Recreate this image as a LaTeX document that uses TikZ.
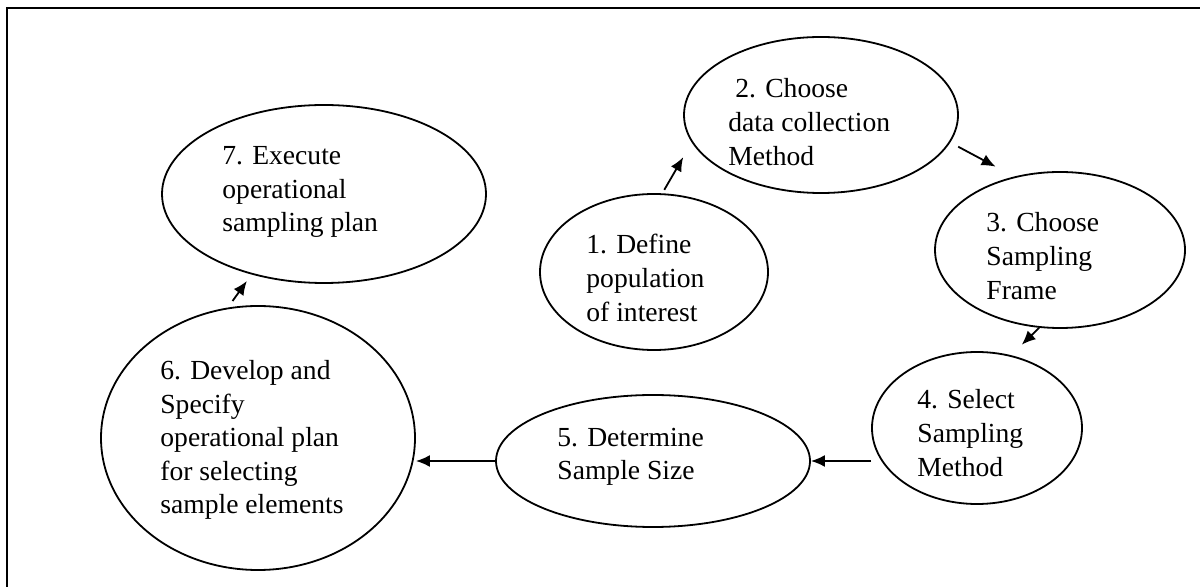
\documentclass[tikz,border=0pt]{standalone}
\usepackage{fontspec}
\setmainfont{Liberation Serif}
\usetikzlibrary{arrows.meta,shapes}

\begin{document}
\begin{tikzpicture}[x=0.5pt,y=-0.5pt,
	stage/.style={draw, ellipse, line width=0.9pt, inner sep=0pt},
	caption/.style={anchor=west, align=left, inner sep=0pt, font=\fontsize{13.8}{16.8}\selectfont},
	flow/.style={line width=0.9pt, -{Latex[length=7pt,width=6pt]}}]
	\useasboundingbox (0,0) rectangle (1200,587);
	\draw [line width=1.4pt] (1200,8) -- (7,8) -- (7,587);
	% the seven steps
	\node [stage, minimum width=114pt, minimum height=78pt] (e1) at (654,272) {};
	\node [stage, minimum width=137pt, minimum height=78pt] (e2) at (821,115) {};
	\node [stage, minimum width=125pt, minimum height=78pt] (e3) at (1060,250) {};
	\node [stage, minimum width=105pt, minimum height=76pt] (e4) at (977,428) {};
	\node [stage, minimum width=157pt, minimum height=66pt] (e5) at (653,461) {};
	\node [stage, minimum width=157pt, minimum height=132pt] (e6) at (258,438) {};
	\node [stage, minimum width=162pt, minimum height=89pt] (e7) at (324,194) {};
	\node [caption] (t1) at (586,278) {1. Define\\population\\of interest};
	\node [caption] (t2) at (728,122) {\hspace*{3.5pt}2. Choose\\data collection\\Method};
	\node [caption] (t3) at (986,256) {3. Choose\\Sampling\\Frame};
	\node [caption] (t4) at (917,433) {4. Select\\Sampling\\Method};
	\node [caption] (t5) at (557,457) {5. Determine\\Sample Size};
	\node [caption] (t6) at (160,440) {6. Develop and\\Specify\\operational plan\\for selecting\\sample elements};
	\node [caption] (t7) at (222,192) {7. Execute\\operational\\sampling plan};
	% arrows
	\draw [flow, shorten <=2pt, shorten >=8.5pt] (e1.84) -- (e2.192);
	\draw [flow, shorten <=4.5pt, shorten >=10.5pt] (e2.348) -- (e3.122);
	\draw [flow, shorten >=7.5pt] (e3.255) -- (e4.65);
	\draw [flow] (e4.west |- e5.east) -- (e5.east);
	\draw [flow] (e5.west) -- (e5.west -| e6.east);
	\draw [flow, shorten <=4pt, shorten >=4pt] (e6.103) -- (e7.228);
\end{tikzpicture}
\end{document}
